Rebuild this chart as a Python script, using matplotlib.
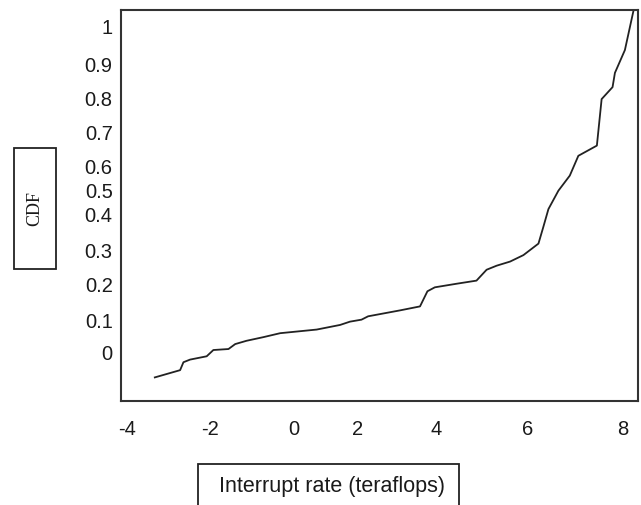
import numpy as np
import matplotlib
matplotlib.use("Agg")
import matplotlib.pyplot as plt
from matplotlib.patches import Rectangle

# curve (x in teraflops, y as labelled on the axis)
rate = [-3.33, -2.72, -2.64, -2.48, -2.08, -1.92, -1.56, -1.40, -1.13, -0.73,
        -0.33, 0.19, 0.71, 1.44, 1.75, 2.09, 2.26, 3.08, 3.59, 3.78,
        3.97, 4.45, 4.88, 5.10, 5.32, 5.61, 5.90, 6.22, 6.32, 6.43,
        6.64, 6.88, 7.06, 7.45, 7.55, 7.78, 7.83, 8.04, 8.22]
cdf = [-0.077, -0.055, -0.031, -0.023, -0.013, 0.006, 0.009, 0.024, 0.034, 0.045,
       0.057, 0.063, 0.068, 0.082, 0.092, 0.098, 0.1075, 0.124, 0.135, 0.177,
       0.188, 0.198, 0.207, 0.239, 0.251, 0.263, 0.282, 0.315, 0.360, 0.417,
       0.497, 0.560, 0.630, 0.660, 0.794, 0.829, 0.871, 0.935, 1.041]

x_ticks = [-4, -2, 0, 2, 4, 6, 8]
x_labels = ["-4", "-2", "0", "2", "4", "6", "8"]
y_ticks = [0, 0.1, 0.2, 0.3, 0.4, 0.5, 0.6, 0.7, 0.8, 0.9, 1.0]
y_labels = ["0", "0.1", "0.2", "0.3", "0.4", "0.5", "0.6", "0.7", "0.8", "0.9", "1"]

# the original axis is hand-spaced: where each tick sits, in pixels
x_tick_px = [127, 210, 294, 358, 436, 528, 623]
y_tick_px = [153, 186, 222, 256, 292, 315, 339, 373, 408, 442, 479]

W, H = 641, 506


def piecewise(vals, pos):
  vals = np.asarray(vals, float)
  pos = np.asarray(pos, float)

  def ext(v, a, b):
    v = np.asarray(v, float)
    out = np.interp(v, a, b)
    lo_s = (b[1] - b[0]) / (a[1] - a[0])
    hi_s = (b[-1] - b[-2]) / (a[-1] - a[-2])
    out = np.where(v < a[0], b[0] + (v - a[0]) * lo_s, out)
    out = np.where(v > a[-1], b[-1] + (v - a[-1]) * hi_s, out)
    return out

  return (lambda v: ext(v, vals, pos)), (lambda p: ext(p, pos, vals))


xf, xi = piecewise(x_ticks, x_tick_px)
yf, yi = piecewise(y_ticks, y_tick_px)

fig = plt.figure(figsize=(W / 100, H / 100), dpi=100)
ax = fig.add_axes([121 / W, 104 / H, 517 / W, 391 / H])
ax.set_xscale("function", functions=(xf, xi))
ax.set_yscale("function", functions=(yf, yi))

ax.plot(rate, cdf, color="#222222", linewidth=1.3)

ax.set_xlim(float(xi(121)), float(xi(638)))
ax.set_ylim(float(yi(104)), float(yi(495)))
ax.set_xticks(x_ticks)
ax.set_xticklabels(x_labels)
ax.set_yticks(y_ticks)
ax.set_yticklabels(y_labels)
ax.minorticks_off()
ax.tick_params(axis="x", length=0, pad=13, labelsize=14.5)
ax.tick_params(axis="y", length=0, pad=6, labelsize=14.5)
for lab in ax.get_xticklabels() + ax.get_yticklabels():
  lab.set_fontfamily("Liberation Sans")
  lab.set_color("#1a1a1a")
for s in ax.spines.values():
  s.set_color("#333333")
  s.set_linewidth(1.5)

# boxed axis titles
fig.patches.append(Rectangle((14 / W, 1 - 270 / H), 42 / W, 121 / H, transform=fig.transFigure,
                             fill=False, edgecolor="#222222", linewidth=1.3))
fig.patches.append(Rectangle((198 / W, 1 - 520 / H), 261 / W, 55 / H, transform=fig.transFigure,
                             fill=False, edgecolor="#222222", linewidth=1.3))
fig.text(35 / W, 1 - 209 / H, "CDF", rotation=90, ha="center", va="center",
         fontsize=13, family="Liberation Serif", color="#1a1a1a")
fig.text(332 / W, 1 - 487 / H, "Interrupt rate (teraflops)", ha="center", va="center",
         fontsize=15.5, family="Liberation Sans", color="#1a1a1a")

fig.savefig("out.png", dpi=100)
plt.close()
